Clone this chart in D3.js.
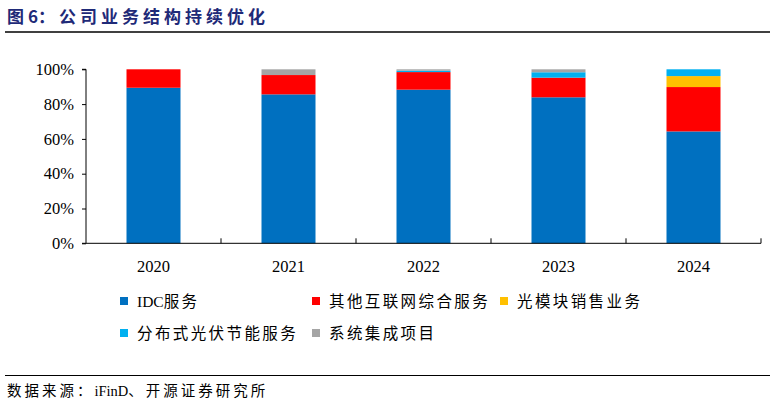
<!DOCTYPE html>
<html><head><meta charset="utf-8">
<script src="https://cdn.jsdelivr.net/npm/d3@7"></script>
<style>
body{margin:0;background:#fff;}
svg{display:block;}
</style></head>
<body>
<svg id="c" width="774" height="405"></svg>
<script>
const years = ["2020","2021","2022","2023","2024"];
const seriesNames = ["IDC服务","其他互联网综合服务","光模块销售业务","分布式光伏节能服务","系统集成项目"];
const idc      = [89.4, 85.6, 88.3, 83.9, 64.3];
const other    = [10.6, 11.1, 10.1, 11.3, 25.5];
const optical  = [0, 0, 0, 0, 6.3];
const solar    = [0, 0, 0.8, 3.1, 3.9];
const sysInt   = [0, 3.3, 0.8, 1.7, 0];
const yTicks = [0, 20, 40, 60, 80, 100];
const colors = ["#0070C0","#FF0000","#FFC000","#00B0F0","#A5A5A5"];

const svg = d3.select("#c");
const serif = "'Liberation Serif','Times New Roman','Noto Sans CJK SC',serif";
const cjk = "'Liberation Serif','Noto Sans CJK SC',sans-serif";

// helper: letter-spacing only on CJK runs
function spaced(sel, str, ls){
  const parts = str.match(/[A-Za-z0-9]+|[^A-Za-z0-9]+/g);
  parts.forEach(p=>{
    sel.append("tspan").attr("letter-spacing", /[A-Za-z0-9]/.test(p)?0:ls).text(p);
  });
}

// title
const t = svg.append("text").attr("x",7).attr("y",23)
  .attr("font-family","'Noto Sans CJK SC',sans-serif").attr("font-weight","bold")
  .attr("font-size",17).attr("fill","#1f2a78");
spaced(t,"图6：公司业务结构持续优化",4);
svg.append("line").attr("x1",5).attr("x2",770).attr("y1",32).attr("y2",32)
  .attr("stroke","#000").attr("stroke-width",1.3);

const x = d3.scaleBand().domain(years).range([86,761]).paddingInner(0.6).paddingOuter(0.3);
const y = d3.scaleLinear().domain([0,100]).range([243.3,69.3]);

const rows = years.map((yr,i)=>({year:yr, s0:idc[i], s1:other[i], s2:optical[i], s3:solar[i], s4:sysInt[i]}));
const stack = d3.stack().keys(["s0","s1","s2","s3","s4"])(rows);

svg.append("g").selectAll("g").data(stack).join("g")
  .attr("fill",(d,i)=>colors[i])
  .selectAll("rect").data(d=>d).join("rect")
  .attr("x",d=>x(d.data.year)).attr("width",x.bandwidth())
  .attr("y",d=>y(d[1])).attr("height",d=>Math.max(0,y(d[0])-y(d[1])));

// y axis
const ya = svg.append("g").attr("transform","translate(86,0)")
  .call(d3.axisLeft(y).tickValues(yTicks).tickFormat(d=>d+"%").tickSize(4).tickPadding(8));
ya.select(".domain").attr("stroke","#000").attr("d","M-4,69.3H0V243.3H-4");
ya.selectAll("text").attr("font-family",serif).attr("font-size",16.5).attr("fill","#000");

// x axis with ticks at band boundaries pointing up
const xa = svg.append("g").attr("transform","translate(0,243.3)");
xa.append("line").attr("x1",86).attr("x2",761).attr("stroke","#000");
const bounds = years.map((d,i)=>x(d) + x.bandwidth() + x.step()*x.paddingInner()/2 + (i===years.length-1 ? x.step()*(x.paddingOuter()-x.paddingInner()/2) : 0));
xa.selectAll("line.t").data(bounds).join("line").attr("class","t")
  .attr("x1",d=>d).attr("x2",d=>d).attr("y1",0).attr("y2",-5).attr("stroke","#000");
xa.selectAll("text").data(years).join("text")
  .attr("x",d=>x(d)+x.bandwidth()/2).attr("y",29).attr("text-anchor","middle")
  .attr("font-family",serif).attr("font-size",16.5).attr("fill","#000").text(d=>d);

// legend
const legPos = [[120,301],[312,301],[500,301],[120,333],[312,333]];
const lg = svg.append("g");
seriesNames.forEach((n,i)=>{
  const [lx,ly]=legPos[i];
  lg.append("rect").attr("x",lx).attr("y",ly-4).attr("width",8).attr("height",8).attr("fill",colors[i]);
  const tx = lg.append("text").attr("x",lx+17).attr("y",ly+5.5).attr("font-family",cjk)
    .attr("font-size",15.5).attr("fill","#000");
  spaced(tx,n,2.4);
});

// footer
svg.append("line").attr("x1",5).attr("x2",770).attr("y1",375.5).attr("y2",375.5)
  .attr("stroke","#000").attr("stroke-width",1.2);
const ft = svg.append("text").attr("x",7).attr("y",396).attr("font-family",cjk)
  .attr("font-size",14.5).attr("fill","#000");
spaced(ft,"数据来源：iFinD、开源证券研究所",3);
</script>
</body></html>
